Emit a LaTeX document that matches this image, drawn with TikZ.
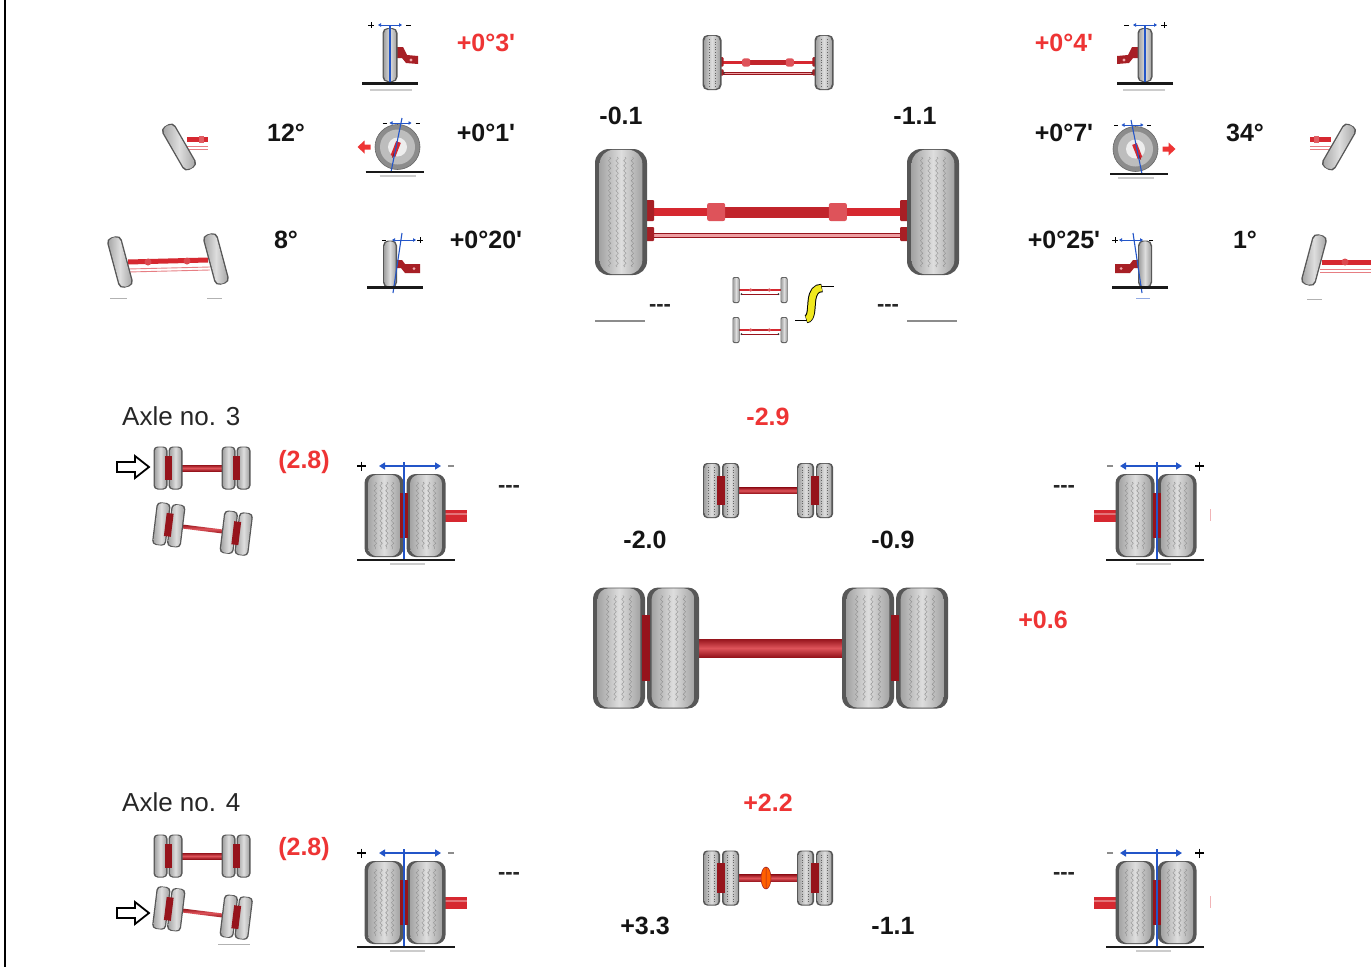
\documentclass[tikz,border=0pt]{standalone}
\usepackage{fontspec}
\newfontfamily\numfont{Liberation Sans}
\newfontfamily\capfont{Liberation Sans}
\usetikzlibrary{arrows.meta,decorations.pathmorphing}

\definecolor{axlered}{RGB}{214,40,48}
\definecolor{hubred}{RGB}{150,20,28}
\definecolor{valred}{RGB}{238,52,52}
\definecolor{markblue}{RGB}{35,85,200}
\definecolor{rampyellow}{RGB}{240,232,30}

\tikzset{
  tyrerim/.style={fill=black!66},
  tyreshade/.style={left color=black!36, right color=black!36, middle color=black!13},
  treadzig/.style={draw=black!42, line width=0.45pt, decorate, decoration={zigzag, segment length=5pt, amplitude=1.2pt}},
  treaddot/.style={draw=black!60, line width=0.8pt, dash pattern=on 1pt off 1.6pt},
  num/.style={font=\numfont\bfseries\fontsize{25}{28}\selectfont, text=black!92, inner sep=0pt},
  rednum/.style={num, text=valred},
  caption/.style={font=\capfont\fontsize{26}{30}\selectfont, text=black!85, inner sep=0pt},
  nodata/.style={font=\capfont\bfseries\fontsize{22}{26}\selectfont, text=black!85, inner sep=0pt},
  ground/.style={line width=2.5pt, black!90},
  shadowline/.style={line width=2pt, black!20},
  bluemark/.style={markblue, line width=1.1pt},
  bluearrow/.style={markblue, line width=1.6pt, -{Triangle[length=6pt,width=7pt]}},
  smallarrow/.style={markblue, line width=0.9pt, -{Triangle[length=3pt,width=3.5pt]}},
  signmark/.style={line width=1.4pt, black},
  knuckle/.style={fill=axlered!78!black},
}

% a tyre centred at the origin: width, height, corner radius, tread (0 none, 1 zigzag, 2 dotted)
\newcommand\tyre[4]{%
  \fill[tyrerim, rounded corners=#3] ({-(#1)/2},{-(#2)/2}) rectangle ({(#1)/2},{(#2)/2});
  \shade[tyreshade, rounded corners=#3] ({-(#1)/2+0.09*(#1)},{-(#2)/2+0.8}) rectangle ({(#1)/2-0.09*(#1)},{(#2)/2-0.8});
  \ifnum#4=1
    \foreach \tx in {-0.22,-0.075,0.075,0.22}
      \draw[treadzig] ({\tx*(#1)},{-(#2)/2+8}) -- ({\tx*(#1)},{(#2)/2-8});
  \fi
  \ifnum#4=2
    \foreach \tx in {-0.16,0.16}
      \draw[treaddot] ({\tx*(#1)},{-(#2)/2+4}) -- ({\tx*(#1)},{(#2)/2-4});
  \fi
}

% steer axle seen from above: half track, tyre width, tyre height, corner, size factor, tread
\newcommand\steeraxle[6]{%
  \pgfmathsetmacro\axin{#1-(#2)/2+2}
  \pgfmathsetmacro\axbul{0.39*#1}
  \draw[hubred, fill=axlered!45, line width=0.4pt] ({-\axin+4},{21*#5}) rectangle ({\axin-4},{25*#5});
  \fill[black!80] ({-\axin+4},{23*#5}) circle ({0.8+1.4*#5}) ({\axin-4},{23*#5}) circle ({0.8+1.4*#5});
  \fill[axlered] ({-\axin},{-4*#5}) rectangle ({\axin},{4*#5});
  \fill[axlered!90!black] ({-\axbul},{-5.5*#5}) rectangle ({\axbul},{5.5*#5});
  \fill[axlered!80!white, rounded corners=2pt] ({-\axbul-9*#5},{-9*#5}) rectangle ({-\axbul+9*#5},{9*#5});
  \fill[axlered!80!white, rounded corners=2pt] ({\axbul-9*#5},{-9*#5}) rectangle ({\axbul+9*#5},{9*#5});
  \fill[knuckle, rounded corners=1pt] ({-\axin-2},{-12*#5}) rectangle ({-\axin+9*#5},{9*#5});
  \fill[knuckle, rounded corners=1pt] ({-\axin-2},{15*#5}) rectangle ({-\axin+9*#5},{29*#5});
  \fill[knuckle, rounded corners=1pt] ({\axin+2},{-12*#5}) rectangle ({\axin-9*#5},{9*#5});
  \fill[knuckle, rounded corners=1pt] ({\axin+2},{15*#5}) rectangle ({\axin-9*#5},{29*#5});
  \begin{scope}[shift={({-#1},0)}]\tyre{#2}{#3}{#4}{#6}\end{scope}
  \begin{scope}[shift={(#1,0)}]\tyre{#2}{#3}{#4}{#6}\end{scope}
}

% axle with twin tyres seen from above: half track, tyre width, tyre height,
% tyre offset from pair centre, beam half thickness, corner, tread
\newcommand\dualaxle[7]{%
  \pgfmathsetmacro\dhub{#4-(#2)/2+3}
  \pgfmathsetmacro\dbeam{#1-#4-(#2)/2+1}
  \shade[top color=hubred, bottom color=hubred, middle color=axlered!80!white] ({-\dbeam},{-#5}) rectangle ({\dbeam},{#5});
  \foreach \dx in {-1,1} {
    \foreach \dy in {-1,1} {
      \begin{scope}[shift={({\dx*#1+\dy*#4},0)}]\tyre{#2}{#3}{#6}{#7}\end{scope}
    }
    \fill[hubred] ({\dx*#1-\dhub},{-0.27*(#3)}) rectangle ({\dx*#1+\dhub},{0.27*(#3)});
  }
}

% twin tyres seen from the front, with the track scale above
\newcommand\dualfront{%
  \draw[shadowline] (-14,51) -- (21,51);
  \fill[axlered] (40,-3) rectangle (63,9);
  \fill[axlered!65!white] (40,0) rectangle (63,2);
  \begin{scope}[shift={(-20,2.5)}]\tyre{39}{83}{9pt}{1}\end{scope}
  \begin{scope}[shift={(22,2.5)}]\tyre{39}{83}{9pt}{1}\end{scope}
  \fill[hubred] (-4,-20) rectangle (4,25);
  \draw[bluemark] (0,-51) -- (0,47);
  \draw[ground] (-47,47) -- (51,47);
  \draw[bluearrow] (0,-47) -- (-25,-47);
  \draw[bluearrow] (0,-47) -- (37,-47);
  \draw[signmark] (-47,-47) -- (-38,-47) (-42.5,-51.5) -- (-42.5,-42.5);
  \draw[signmark, black!45] (44,-47) -- (50,-47);
}

% camber: narrow wheel from the front
\newcommand\cambericon{%
  \draw[shadowline] (-20,35) -- (22,35);
  \fill[knuckle] (6,-8) -- (13,-8) -- (17,0) -- (28,1) -- (28,9) -- (16,8) -- (12,3) -- (6,3) -- cycle;
  \fill[axlered!40!white] (21,5) circle (1.6);
  \tyre{15}{54}{5pt}{0}
  \draw[bluemark] (0,-30) -- (0,29);
  \draw[ground] (-28,28.5) -- (28,28.5);
  \draw[smallarrow] (0,-30) -- (-12,-30);
  \draw[smallarrow] (0,-30) -- (12,-30);
  \draw[signmark, line width=1pt] (-22,-30) -- (-16,-30) (-19,-33) -- (-19,-27);
  \draw[signmark, line width=1pt] (16,-30) -- (21,-30);
}

% caster: wheel from the side
\newcommand\castericon{%
  \draw[shadowline] (-18,29) -- (18,29);
  \draw[black!60, fill=black!45, line width=0.6pt] (0,0) circle (22.5);
  \fill[black!26] (0,0) circle (17.5);
  \fill[black!7] (0,0) circle (9.5);
  \draw[line width=5pt, axlered] (-4.5,9) -- (1,-5);
  \draw[line width=1.2pt, hubred] (-5,10.5) -- (-3.2,6);
  \draw[bluemark] (4.5,-29) -- (-6.5,25);
  \draw[ground] (-32,25) -- (26,25);
  \draw[smallarrow] (3,-24) -- (-8,-24);
  \draw[smallarrow] (3,-24) -- (14,-24);
  \draw[signmark, line width=1pt] (-15,-24) -- (-11,-24) (18,-24) -- (22,-24);
  \fill[valred] (-27,-2.5) -- (-33,-2.5) -- (-33,-6.5) -- (-40,0) -- (-33,6.5) -- (-33,2.5) -- (-27,2.5) -- cycle;
}

% king pin inclination: narrow wheel with tilted pin line
\newcommand\kpiicon{%
  \fill[knuckle] (6,-4) -- (12,-4) -- (15,0) -- (30,0) -- (30,9) -- (15,9) -- (11,4) -- (6,4) -- cycle;
  \fill[axlered!40!white] (24,4.5) circle (1.5);
  \tyre{14}{47}{5pt}{0}
  \draw[bluemark] (12,-31) -- (3,29);
  \draw[ground] (-23,23.5) -- (33,23.5);
  \draw[smallarrow] (10,-24) -- (2,-24);
  \draw[smallarrow] (10,-24) -- (26,-24);
  \draw[signmark, line width=1pt] (-8,-24) -- (-4,-24);
  \draw[signmark, line width=1pt] (27,-24) -- (33,-24) (30,-27) -- (30,-21);
}

% single wheel turned for the steering angle
\newcommand\toeicon{%
  \fill[axlered] (8,-10) rectangle (29,-5);
  \fill[axlered!75!white] (20,-11) rectangle (25,-4);
  \draw[axlered!60, line width=0.9pt] (8,-1) -- (29,-1) (8,2) -- (29,2);
  \begin{scope}[rotate=30]\tyre{15}{50}{5pt}{0}\end{scope}
}

% outlined arrow pointing at the measured axle
\newcommand\hollowarrow{%
  \draw[line width=1.8pt, fill=white, line join=miter] (-16,-5) -- (2,-5) -- (2,-11) -- (16,0) -- (2,11) -- (2,5) -- (-16,5) -- cycle;
}

\begin{document}
\begin{tikzpicture}[x=1pt, y=-1pt]
\useasboundingbox (0,0) rectangle (1371,967);
\fill[white] (0,0) rectangle (1371,967);
\draw[line width=2pt] (5,0) -- (5,967);

% ================= steer axle =================
% left: steering angle
\begin{scope}[shift={(179,147)}]\toeicon\end{scope}
\node[num] (steerL) at (286,133) {12°};
% left: axle turned
\begin{scope}
  \fill[axlered] (128,259.5) -- (208,257.5) -- (208,262.5) -- (128,264.5) -- cycle;
  \fill[axlered!85!white] (148,262) circle (3.5) (187,261) circle (3.5);
  \draw[axlered!60, line width=0.9pt] (128,269) -- (210,267) (128,272) -- (210,270);
  \begin{scope}[shift={(120,262)}, rotate=15]\tyre{15}{52}{5pt}{0}\end{scope}
  \begin{scope}[shift={(216,259)}, rotate=15]\tyre{15}{52}{5pt}{0}\end{scope}
  \draw[black!30, line width=1pt] (110,298) -- (127,298) (207,298) -- (222,298);
\end{scope}
\node[num] (setbackL) at (286,240) {8°};

\begin{scope}[shift={(390,55)}]\cambericon\end{scope}
\node[rednum] (camberL) at (486,43) {+0°3'};
\begin{scope}[shift={(397.5,147)}]\castericon\end{scope}
\node[num] (casterL) at (486,133) {+0°1'};
\begin{scope}[shift={(390,264)}]\kpiicon\end{scope}
\node[num] (kpiL) at (486,240) {+0°20'};

% centre: small and large steer axle
\begin{scope}[shift={(768,62.5)}]\steeraxle{56}{19}{55}{5pt}{0.45}{2}\end{scope}
\begin{scope}[shift={(777,212)}]\steeraxle{156}{52}{126}{14pt}{1}{1}\end{scope}
\node[num] (toeFL) at (621,116) {-0.1};
\node[num] (toeFR) at (915,116) {-1.1};

% centre bottom: parallelism and offset
\begin{scope}[shift={(760,290)}]\steeraxle{24}{7}{26}{2pt}{0.18}{0}\end{scope}
\begin{scope}[shift={(760,330)}]\steeraxle{24}{7}{26}{2pt}{0.18}{0}\end{scope}
\draw[black, line width=0.8pt] (795,320.5) -- (808,320.5) (820,286) -- (834,286);
\draw[black, line width=8.5pt] (806,319) .. controls (812,319) and (811,306) .. (812,300) .. controls (813,292) and (816,288) .. (822,288);
\draw[rampyellow, line width=6.5pt] (806.5,319) .. controls (812,319) and (811,306) .. (812,300) .. controls (813,292) and (816,288) .. (821.5,288);
\node[nodata] (offL) at (660,308) {-{}-{}-};
\node[nodata] (offR) at (888,308) {-{}-{}-};
\draw[black!45, line width=1.6pt] (595,321) -- (645,321) (907,321) -- (957,321);

% right side
\begin{scope}[shift={(1145,55)}, xscale=-1]\cambericon\end{scope}
\node[rednum] (camberR) at (1064,43) {+0°4'};
\begin{scope}[shift={(1135.5,149)}, xscale=-1]\castericon\end{scope}
\node[num] (casterR) at (1064,133) {+0°7'};
\begin{scope}[shift={(1145,264)}, xscale=-1]\kpiicon\end{scope}
\draw[markblue!50, line width=1pt] (1136,298) -- (1150,298);
\node[num] (kpiR) at (1064,240) {+0°25'};
\node[num] (steerR) at (1245,133) {34°};
\begin{scope}[shift={(1339,147)}, xscale=-1]\toeicon\end{scope}
\node[num] (setbackR) at (1245,240) {1°};
\begin{scope}
  \fill[axlered] (1322,259.5) rectangle (1371,264.5);
  \fill[axlered!85!white] (1345,262) circle (3.5);
  \draw[axlered!60, line width=0.9pt] (1320,269) -- (1371,269) (1320,272) -- (1371,272);
  \begin{scope}[shift={(1314,260)}, rotate=-15]\tyre{15}{52}{5pt}{0}\end{scope}
  \draw[black!30, line width=1pt] (1307,299) -- (1322,299);
\end{scope}

% ================= axle no. 3 =================
\node[caption, anchor=west] (axle3) at (122,416) {Axle no. 3};
\begin{scope}[shift={(133,467)}]\hollowarrow\end{scope}
\begin{scope}[shift={(202,468)}]\dualaxle{34}{14}{43}{7.5}{3}{4pt}{0}\end{scope}
\begin{scope}[shift={(202.5,529)}, rotate=-7]\dualaxle{34}{14}{43}{7.5}{2}{4pt}{0}\end{scope}
\node[rednum] (thrust3) at (304,462) {(2.8)};
\begin{scope}[shift={(404,513)}]\dualfront\end{scope}
\node[nodata] (camb3L) at (509,489) {-{}-{}-};
\node[rednum] (toe3) at (768,417) {-2.9};
\begin{scope}[shift={(768,490.5)}]\dualaxle{47}{17}{55}{9.5}{3}{4pt}{2}\end{scope}
\node[num] (toe3L) at (645,540) {-2.0};
\node[num] (toe3R) at (893,540) {-0.9};
\begin{scope}[shift={(770.5,648)}]\dualaxle{124.5}{52}{121}{27}{9}{11pt}{1}\end{scope}
\node[rednum] (offs3) at (1043,620) {+0.6};
\node[nodata] (camb3R) at (1064,489) {-{}-{}-};
\begin{scope}[shift={(1157,513)}, xscale=-1]\dualfront\end{scope}
\draw[axlered!35, line width=1pt] (1210,509) -- (1210,521);

% ================= axle no. 4 =================
\node[caption, anchor=west] (axle4) at (122,802) {Axle no. 4};
\begin{scope}[shift={(202,856)}]\dualaxle{34}{14}{43}{7.5}{3}{4pt}{0}\end{scope}
\begin{scope}[shift={(202.5,913)}, rotate=-7]\dualaxle{34}{14}{43}{7.5}{2}{4pt}{0}\end{scope}
\draw[black!30, line width=1pt] (218,944) -- (250,944);
\begin{scope}[shift={(133,913)}]\hollowarrow\end{scope}
\node[rednum] (thrust4) at (304,849) {(2.8)};
\begin{scope}[shift={(404,900)}]\dualfront\end{scope}
\node[nodata] (camb4L) at (509,876) {-{}-{}-};
\node[rednum] (toe4) at (768,803) {+2.2};
\begin{scope}[shift={(768,878)}]
  \dualaxle{47}{17}{55}{9.5}{3.5}{4pt}{2}
  \fill[orange!75!red] (-2,0) ellipse (5 and 11);
  \draw[axlered!75!black, line width=0.5pt] (-2,0) ellipse (5 and 11) (-2,-11) -- (-2,11);
\end{scope}
\node[num] (toe4L) at (645,926) {+3.3};
\node[num] (toe4R) at (893,926) {-1.1};
\node[nodata] (camb4R) at (1064,876) {-{}-{}-};
\begin{scope}[shift={(1157,900)}, xscale=-1]\dualfront\end{scope}
\draw[axlered!35, line width=1pt] (1210,896) -- (1210,908);
\end{tikzpicture}
\end{document}
